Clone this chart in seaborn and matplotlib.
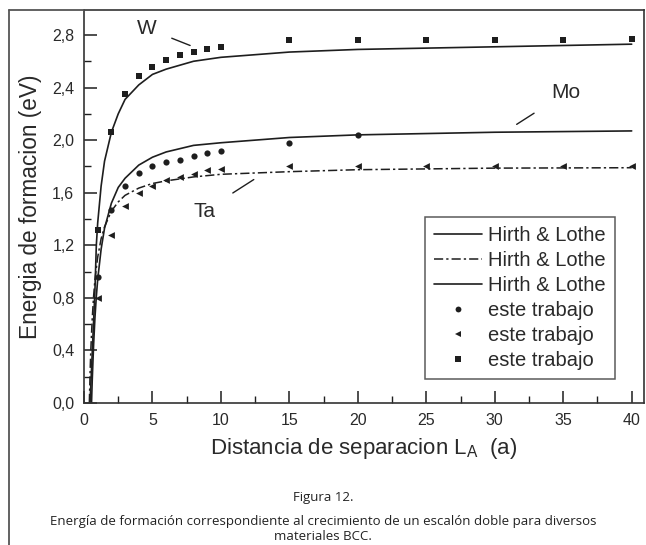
import matplotlib
matplotlib.use("Agg")
import matplotlib.pyplot as plt
import seaborn as sns
import pandas as pd
from matplotlib.lines import Line2D
from matplotlib.ticker import MultipleLocator, FuncFormatter

# ---------------- data ----------------
# Hirth & Lothe curves
w_fit_x = [0.44, 0.5, 0.55, 0.6, 0.65, 0.7, 0.8, 0.9, 1.0, 1.25, 1.5, 2.0, 2.5, 3.0, 4.0, 5.0, 6.0, 8.0, 10.0, 15.0, 20.0, 30.0, 40.0]
w_fit_y = [0.00, 0.14, 0.26, 0.38, 0.50, 0.62, 0.86, 1.20, 1.37, 1.65, 1.84, 2.06, 2.20, 2.31, 2.42, 2.50, 2.54, 2.60, 2.63, 2.67, 2.69, 2.71, 2.73]

mo_fit_x = [0.55, 0.6, 0.7, 0.8, 0.9, 1.0, 1.25, 1.5, 2.0, 2.5, 3.0, 4.0, 5.0, 6.0, 8.0, 10.0, 15.0, 20.0, 30.0, 40.0]
mo_fit_y = [0.00, 0.17, 0.44, 0.65, 0.81, 0.94, 1.17, 1.33, 1.52, 1.64, 1.71, 1.81, 1.87, 1.91, 1.96, 1.98, 2.02, 2.04, 2.06, 2.07]

ta_fit_x = [0.39, 0.45, 0.5, 0.6, 0.7, 0.8, 1.0, 1.25, 1.5, 2.0, 2.5, 3.0, 4.0, 5.0, 6.0, 8.0, 10.0, 15.0, 20.0, 30.0, 40.0]
ta_fit_y = [0.00, 0.25, 0.41, 0.64, 0.81, 0.94, 1.11, 1.25, 1.34, 1.46, 1.53, 1.58, 1.635, 1.67, 1.69, 1.72, 1.74, 1.76, 1.775, 1.787, 1.79]

# este trabajo
w_x = [1, 2, 3, 4, 5, 6, 7, 8, 9, 10, 15, 20, 25, 30, 35, 40]
w_y = [1.32, 2.06, 2.35, 2.49, 2.56, 2.61, 2.65, 2.67, 2.69, 2.71, 2.76, 2.76, 2.76, 2.76, 2.76, 2.77]

mo_x = [1, 2, 3, 4, 5, 6, 7, 8, 9, 10, 15, 20]
mo_y = [0.96, 1.47, 1.65, 1.75, 1.80, 1.83, 1.85, 1.88, 1.90, 1.92, 1.98, 2.04]

ta_x = [1, 2, 3, 4, 5, 6, 7, 8, 9, 10, 15, 20, 25, 30, 35, 40]
ta_y = [0.80, 1.28, 1.50, 1.60, 1.65, 1.70, 1.72, 1.74, 1.77, 1.78, 1.80, 1.80, 1.80, 1.80, 1.80, 1.80]

x_ticks = [0, 5, 10, 15, 20, 25, 30, 35, 40]
y_ticks = [0.0, 0.4, 0.8, 1.2, 1.6, 2.0, 2.4, 2.8]

legend_labels = ["Hirth & Lothe", "Hirth & Lothe", "Hirth & Lothe",
                 "este trabajo", "este trabajo", "este trabajo"]

# ---------------- style ----------------
sns.set_style("white")
plt.rcParams['font.family'] = ['Liberation Sans', 'DejaVu Sans']
INK = '#1e1e1e'
TXT = '#2a2a2a'

W, H = 646, 545
fig = plt.figure(figsize=(W / 100, H / 100), dpi=100)
ax = fig.add_axes([84 / W, 1 - 403 / H, (644 - 84) / W, (403 - 10) / H])

# curves
sns.lineplot(x=w_fit_x, y=w_fit_y, ax=ax, color=INK, lw=1.2, estimator=None, sort=False)
sns.lineplot(x=mo_fit_x, y=mo_fit_y, ax=ax, color=INK, lw=1.2, estimator=None, sort=False)
sns.lineplot(x=ta_fit_x, y=ta_fit_y, ax=ax, color=INK, lw=1.1, estimator=None, sort=False)
ax.lines[-1].set_dashes([6, 2, 1.5, 2])

# points
sns.scatterplot(x=mo_x, y=mo_y, ax=ax, marker='o', s=20, color=INK, linewidth=0)
sns.scatterplot(x=ta_x, y=ta_y, ax=ax, marker='<', s=24, color=INK, linewidth=0)
sns.scatterplot(x=w_x, y=w_y, ax=ax, marker='s', s=16, color=INK, linewidth=0)

# axes
ax.set_xlim(0, 40.9)
ax.set_ylim(0, 2.99)
ax.set_xticks(x_ticks)
ax.set_yticks(y_ticks)
ax.xaxis.set_minor_locator(MultipleLocator(2.5))
ax.yaxis.set_minor_locator(MultipleLocator(0.2))
ax.yaxis.set_major_formatter(FuncFormatter(lambda v, p: f"{v:.1f}".replace('.', ',')))
ax.xaxis.set_major_formatter(FuncFormatter(lambda v, p: f"{v:.0f}"))
ax.tick_params(axis='both', which='both', direction='in', bottom=True, left=True,
               top=False, right=False, colors=INK, labelcolor=TXT)
ax.tick_params(axis='both', which='major', length=9, width=1.1, labelsize=11.5, pad=7)
ax.tick_params(axis='both', which='minor', length=5, width=1.0)
for sp in ax.spines.values():
    sp.set_color('#333333')
    sp.set_linewidth(1.2)

ax.set_xlabel(r"Distancia de separacion L$_\mathregular{A}$  (a)", fontsize=16, color=TXT, labelpad=6)
ax.set_ylabel("Energia de formacion (eV)", fontsize=16.3, color=TXT, labelpad=7)

# annotations
ax.annotate("W", xy=(7.75, 2.72), xytext=(4.6, 2.85), fontsize=15, color=TXT, ha='center', va='center',
            arrowprops=dict(arrowstyle='-', color=INK, lw=1.0, shrinkA=9, shrinkB=0))
ax.annotate("Mo", xy=(31.6, 2.12), xytext=(35.2, 2.36), fontsize=15, color=TXT, ha='center', va='center',
            arrowprops=dict(arrowstyle='-', color=INK, lw=1.0, shrinkA=12, shrinkB=0))
ax.annotate("Ta", xy=(12.4, 1.70), xytext=(8.8, 1.46), fontsize=15, color=TXT, ha='center', va='center',
            arrowprops=dict(arrowstyle='-', color=INK, lw=1.0, shrinkA=12, shrinkB=0))

# legend
handles = [
    Line2D([], [], color=INK, lw=1.2),
    Line2D([], [], color=INK, lw=1.1, dashes=[6, 2, 1.5, 2]),
    Line2D([], [], color=INK, lw=1.2),
    Line2D([], [], color=INK, lw=0, marker='o', markersize=4.2, markeredgewidth=0),
    Line2D([], [], color=INK, lw=0, marker='<', markersize=4.8, markeredgewidth=0),
    Line2D([], [], color=INK, lw=0, marker='s', markersize=4.0, markeredgewidth=0),
]
leg = ax.legend(handles, legend_labels, loc='upper right', bbox_to_anchor=(0.948, 0.473),
                fontsize=14.5, frameon=True, fancybox=False, handlelength=2.4, handletextpad=0.3,
                labelspacing=0.3, borderpad=0.45, borderaxespad=0)
leg.get_frame().set_edgecolor('#333333')
leg.get_frame().set_linewidth(1.1)
for t in leg.get_texts():
    t.set_color(TXT)

# outer frame (scan border)
fig.add_artist(Line2D([9 / W, 9 / W], [0, 1 - 10 / H], transform=fig.transFigure, color='#555555', lw=1.3))
fig.add_artist(Line2D([9 / W, 84 / W], [1 - 10 / H, 1 - 10 / H], transform=fig.transFigure, color='#555555', lw=1.3))

# caption
fig.text(0.5, 1 - 497 / H, "Figura 12.", ha='center', va='center', fontsize=9.5,
         family=['Open Sans', 'DejaVu Sans'], color='#222222')
fig.text(0.5, 1 - 521 / H, "Energía de formación correspondiente al crecimiento de un escalón doble para diversos",
         ha='center', va='center', fontsize=9.5, family=['Open Sans', 'DejaVu Sans'], color='#222222')
fig.text(0.5, 1 - 536 / H, "materiales BCC.", ha='center', va='center', fontsize=9.5,
         family=['Open Sans', 'DejaVu Sans'], color='#222222')

fig.savefig("out.png", dpi=100)
